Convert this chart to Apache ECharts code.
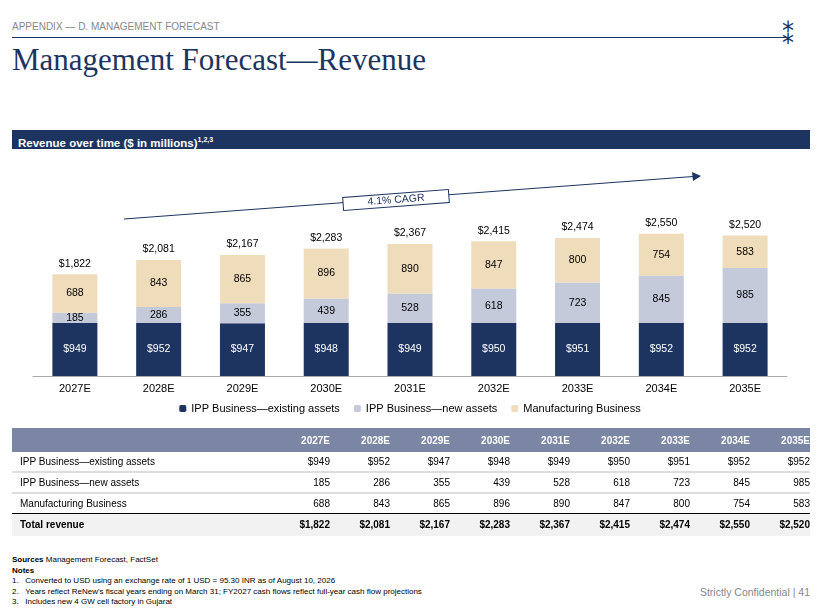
<!DOCTYPE html>
<html><head><meta charset="utf-8">
<script src="https://cdn.jsdelivr.net/npm/echarts@6/dist/echarts.min.js"></script>
<style>
body{margin:0;width:820px;height:615px;position:relative;background:#fff;font-family:Arial,"Liberation Sans",sans-serif;overflow:hidden}
.abs{position:absolute}
#chart{position:absolute;left:0;top:150px;width:820px;height:280px}
table{border-collapse:collapse;font-size:10px;color:#000}
td{padding:0;height:19px;text-align:right}
td:first-child{text-align:left;padding-left:8px}
</style></head><body>
<div class="abs" style="left:12px;top:21px;font-size:10px;color:#888">APPENDIX — D. MANAGEMENT FORECAST</div>
<div class="abs" style="left:12px;top:37px;width:775px;border-top:1.5px solid #1d3461"></div>
<div class="abs" style="left:782px;top:22px;font-size:24px;color:#1d3461;font-family:'DejaVu Sans'">⁑</div>
<div class="abs" style="left:12px;top:42px;font-size:31px;color:#1d3461;font-family:'Liberation Serif',serif">Management Forecast—Revenue</div>
<div class="abs" style="left:12px;top:130px;width:798px;height:19px;background:#1d3461;color:#fff;font-weight:bold;font-size:11.5px;line-height:20px;padding-left:6px;box-sizing:border-box">Revenue over time ($ in millions)<sup style="font-size:7px">1,2,3</sup></div>
<div id="chart"></div>
<div class="abs" style="left:12px;top:428px;width:798px">
<table id="tbl" style="width:798px;table-layout:fixed"></table></div>
<div class="abs" style="left:12px;top:555px;font-size:8px;line-height:10.5px;color:#000">
<b>Sources</b> Management Forecast, FactSet<br><b>Notes</b><br>
1.&nbsp;&nbsp;&nbsp;Converted to USD using an exchange rate of 1 USD = 95.30 INR as of August 10, 2026<br>
2.&nbsp;&nbsp;&nbsp;Years reflect ReNew's fiscal years ending on March 31; FY2027 cash flows reflect full-year cash flow projections<br>
3.&nbsp;&nbsp;&nbsp;Includes new 4 GW cell factory in Gujarat</div>
<div class="abs" style="right:10px;top:586px;font-size:10.5px;color:#888">Strictly Confidential | 41</div>
<script>
const categories=['2027E','2028E','2029E','2030E','2031E','2032E','2033E','2034E','2035E'];
const existing=[949,952,947,948,949,950,951,952,952];
const newAssets=[185,286,355,439,528,618,723,845,985];
const manufacturing=[688,843,865,896,890,847,800,754,583];
const totals=[1822,2081,2167,2283,2367,2415,2474,2550,2520];
const fmt=v=>'$'+v.toLocaleString('en-US');
const navy='#1d3461',lav='#c5cadb',beige='#efdcbb';
const ch=echarts.init(document.getElementById('chart'));
ch.setOption({
 animation:false,
 grid:{left:33,top:58.6,width:754,height:167.4},
 xAxis:{type:'category',data:categories,axisTick:{show:false},axisLine:{lineStyle:{color:'#aaa'}},axisLabel:{color:'#000',fontSize:11,margin:7}},
 yAxis:{type:'value',min:0,max:3000,show:false,splitLine:{show:false}},
 legend:{bottom:11,left:'center',itemWidth:7,itemHeight:7,itemGap:14,textStyle:{fontSize:11,color:'#000'},data:['IPP Business—existing assets','IPP Business—new assets','Manufacturing Business']},
 series:[
  {name:'IPP Business—existing assets',type:'bar',stack:'a',barWidth:45,data:existing,itemStyle:{color:navy},label:{show:true,color:'#fff',fontSize:10.5,formatter:p=>fmt(p.value)}},
  {name:'IPP Business—new assets',type:'bar',stack:'a',data:newAssets,itemStyle:{color:lav},label:{show:true,color:'#000',fontSize:10.5,formatter:p=>p.value}},
  {name:'Manufacturing Business',type:'bar',stack:'a',data:manufacturing,itemStyle:{color:beige},label:{show:true,color:'#000',fontSize:10.5}},
  {name:'total',type:'bar',stack:'a',data:totals.map(()=>0),itemStyle:{color:'transparent'},label:{show:true,position:'top',distance:5,color:'#000',fontSize:10.5,formatter:p=>fmt(totals[p.dataIndex])}}
 ],
 graphic:[
  {type:'line',shape:{x1:124,y1:69,x2:693,y2:26.5},style:{stroke:navy,lineWidth:1.2}},
  {type:'polygon',shape:{points:[[701,26],[692,22],[693,31]]},style:{fill:navy}},
  {type:'group',x:396,y:50,rotation:0.0745,children:[
   {type:'rect',shape:{x:-53,y:-6.5,width:106,height:13},style:{fill:'#fff',stroke:navy,lineWidth:1}},
   {type:'text',style:{text:'4.1% CAGR',x:0,y:0,align:'center',verticalAlign:'middle',fontSize:10.5,fill:navy}}]}
 ]
});
let h='<tr style="background:#7a86a3;color:#fff;font-weight:bold;height:24px"><td style="width:250px"></td>'+categories.map(c=>'<td>'+c+'</td>').join('')+'</tr>';
const row=(n,a,f,st)=>'<tr style="'+st+'"><td>'+n+'</td>'+a.map(v=>'<td>'+f(v)+'</td>').join('')+'</tr>';
h+=row('IPP Business—existing assets',existing,fmt,'border-bottom:2px solid #ddd');
h+=row('IPP Business—new assets',newAssets,v=>v,'border-bottom:2px solid #ddd');
h+=row('Manufacturing Business',manufacturing,v=>v,'border-bottom:1.5px solid #000');
h+=row('Total revenue',totals,fmt,'font-weight:bold;background:#f2f2f2;height:22px');
document.getElementById('tbl').innerHTML=h;
</script></body></html>
